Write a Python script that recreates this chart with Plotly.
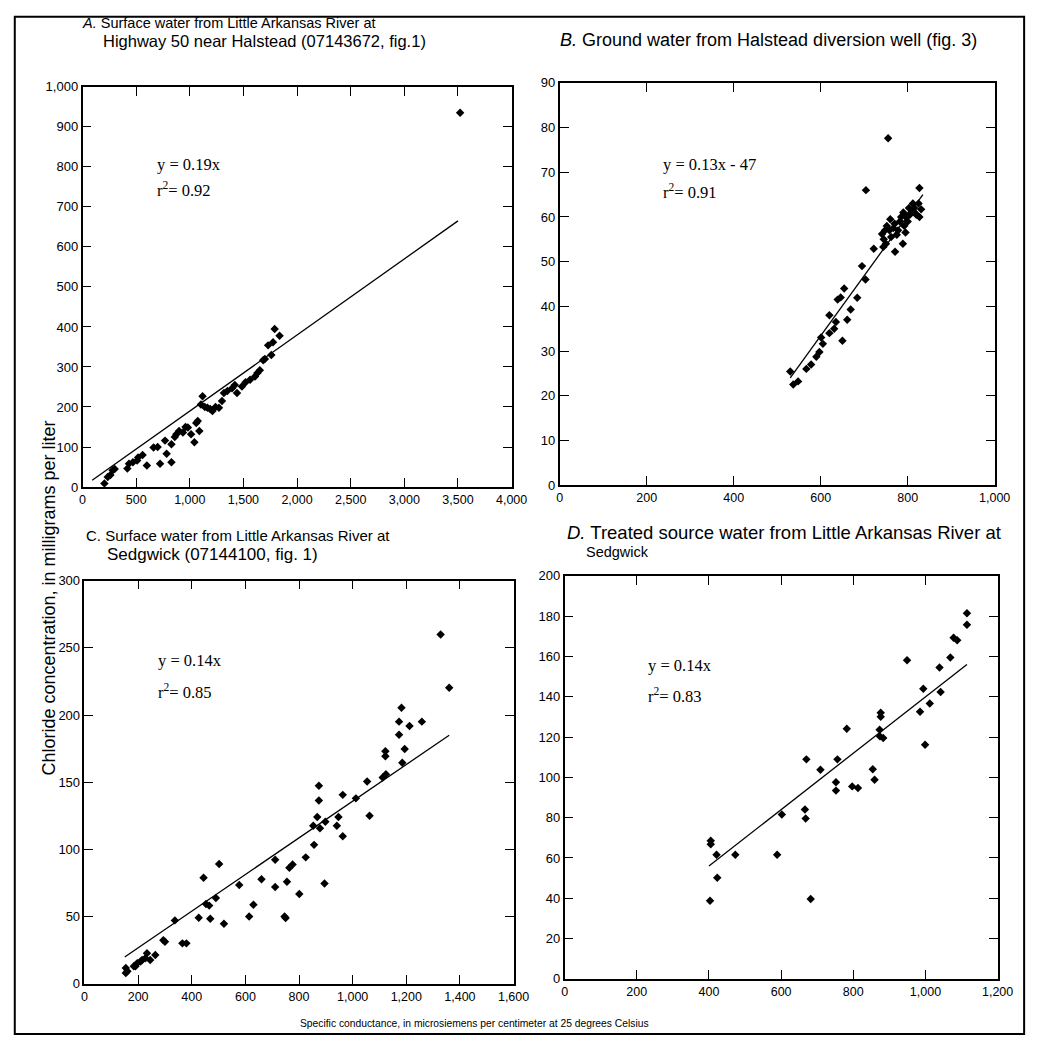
import plotly.graph_objects as go

W, H = 1047, 1048

# ---------------- data ----------------
A_x = [204, 235, 260, 281, 300, 418, 433, 470, 509, 518, 560, 600, 662, 700, 723, 769, 784, 829, 829, 860,
       875, 900, 936, 960, 982, 1012, 1043, 1060, 1074, 1089, 1104, 1119, 1140, 1165, 1190, 1211, 1240, 1272,
       1300, 1318, 1350, 1394, 1420, 1440, 1486, 1520, 1562, 1608, 1630, 1653, 1684, 1700, 1730, 1760, 1776,
       1791, 1837, 3520]
A_y = [9, 25, 30, 42, 45, 46, 58, 62, 66, 74, 80, 54, 99, 100, 58, 116, 83, 62, 107, 125,
       132, 140, 136, 150, 149, 132, 112, 160, 165, 140, 206, 227, 200, 198, 195, 190, 200, 198,
       215, 235, 240, 247, 255, 235, 251, 262, 268, 276, 285, 292, 317, 320, 354, 330, 362,
       395, 378, 935]
A_fit_x = [90, 3500]
A_fit_y = [17, 665]

B_x = [530, 537, 548, 567, 578, 590, 597, 605, 601, 620, 631, 620, 635, 650, 639, 654, 646, 669, 661, 684,
       695, 703, 722, 744, 741, 752, 767, 771, 782, 789, 797, 805, 816, 827, 831, 812, 775, 755, 704, 827,
       745, 750, 758, 762, 770, 778, 785, 792, 800, 808, 815, 820, 825, 760, 748, 795, 803, 790]
B_y = [25.4, 22.5, 23.2, 26, 27, 28.7, 29.8, 31.6, 33, 34, 35, 38, 36.5, 32.3, 41.5, 44, 42, 39.3, 37, 41.9,
       49, 46, 52.9, 53.3, 56.2, 58, 57.5, 52.2, 59, 54, 60, 60.5, 61, 60, 61.7, 63, 56, 77.6, 66, 66.5,
       55, 54, 57, 55.5, 58.5, 57, 60, 58, 59, 61, 62, 60.5, 63, 59.5, 57, 56.5, 62, 61]
B_fit_x = [530, 835]
B_fit_y = [24, 65]

C_x = [1328, 1360, 1182, 1173, 1173, 1212, 1258, 1194, 1185, 1122, 1122, 1112, 1124, 1054, 1063, 1012, 963,
       947, 941, 963, 874, 874, 868, 878, 853, 856, 898, 895, 825, 801, 776, 764, 755, 746, 711, 711, 660,
       630, 614, 577, 502, 490, 520, 465, 469, 453, 444, 426, 365, 380, 300, 337, 264, 245, 233, 215, 197,
       184, 154, 160, 154, 190, 209, 227, 294, 750]
C_y = [260, 220.3, 205.4, 195.1, 185.3, 191.9, 195.1, 174.8, 164.5, 173.1, 169.4, 153.6, 156, 150.6, 125, 138,
       140.6, 124.2, 117.6, 109.8, 147.4, 136.4, 124.2, 115.7, 117.6, 103.4, 120.6, 74.6, 94.1, 66.8, 88.8,
       86.3, 76, 50.1, 92.4, 72.1, 77.8, 58.9, 50.1, 73.6, 89.2, 63.8, 44.7, 58.2, 48.4, 59.4, 79, 49.1, 30.1,
       30.1, 31.3, 47.2, 21.5, 17.8, 22.7, 17.8, 15.4, 13, 11.7, 9.3, 8, 13, 16.6, 19, 32.5, 49]
C_fit_x = [150, 1360]
C_fit_y = [20, 185]

D_x = [1115, 1115, 1088, 1078, 1069, 1039, 1042, 1012, 994, 985, 999, 949, 876, 876, 873, 874, 883, 854, 859,
       782, 756, 752, 752, 797, 813, 709, 670, 666, 668, 682, 602, 589, 473, 421, 423, 405, 403, 405]
D_y = [181.4, 175.7, 168, 169.2, 159.4, 154.5, 142.3, 136.6, 143.9, 132.5, 116.2, 158.1, 132, 130, 123.6, 120.3,
       119.5, 104, 98.8, 124.1, 108.9, 97.5, 93.4, 95.5, 94.7, 103.7, 108.9, 84, 79.6, 39.6, 81.5, 61.6, 61.6,
       61.6, 50.2, 66.8, 38.8, 68.5]
D_fit_x = [400, 1115]
D_fit_y = [56, 156]

A_xticks = [0, 500, 1000, 1500, 2000, 2500, 3000, 3500, 4000]
A_yticks = [0, 100, 200, 300, 400, 500, 600, 700, 800, 900, 1000]
B_xticks = [0, 200, 400, 600, 800, 1000]
B_yticks = [0, 10, 20, 30, 40, 50, 60, 70, 80, 90]
C_xticks = [0, 200, 400, 600, 800, 1000, 1200, 1400, 1600]
C_yticks = [0, 50, 100, 150, 200, 250, 300]
D_xticks = [0, 200, 400, 600, 800, 1000, 1200]
D_yticks = [0, 20, 40, 60, 80, 100, 120, 140, 160, 180, 200]

titles = {
    "A": ["<i>A.</i> Surface water from Little Arkansas River at", "Highway 50 near Halstead (07143672, fig.1)"],
    "B": ["<i>B.</i> Ground water from Halstead diversion well (fig. 3)"],
    "C": ["C. Surface water from Little Arkansas River at", "Sedgwick (07144100, fig. 1)"],
    "D": ["<i>D.</i> Treated source water from Little Arkansas River at", "Sedgwick"],
}
equations = {
    "A": ["y = 0.19x", "r<sup>2</sup>= 0.92"],
    "B": ["y = 0.13x - 47", "r<sup>2</sup>= 0.91"],
    "C": ["y = 0.14x", "r<sup>2</sup>= 0.85"],
    "D": ["y = 0.14x", "r<sup>2</sup>= 0.83"],
}

# ---------------- layout helpers ----------------
def fx(p):
    return p / W

def fy(p):
    return 1 - p / H

# pixel boxes: (left, right, top, bottom)
boxes = {
    "A": (81, 518, 81, 487),
    "B": (567, 1010, 77, 485),
    "C": (83, 520, 582, 991),
    "D": (572, 1013, 577, 986),
}

panels = [
    ("A", A_x, A_y, A_fit_x, A_fit_y, A_xticks, A_yticks),
    ("B", B_x, B_y, B_fit_x, B_fit_y, B_xticks, B_yticks),
    ("C", C_x, C_y, C_fit_x, C_fit_y, C_xticks, C_yticks),
    ("D", D_x, D_y, D_fit_x, D_fit_y, D_xticks, D_yticks),
]

SANS = "Liberation Sans, Arial, sans-serif"
SERIF = "Liberation Serif, Times New Roman, serif"

fig = go.Figure()
layout = dict(
    width=W, height=H, margin=dict(l=0, r=0, t=0, b=0),
    paper_bgcolor="white", plot_bgcolor="white", showlegend=False,
)
annotations = []

for i, (key, xs, ys, fxs, fys, xt, yt) in enumerate(panels):
    n = "" if i == 0 else str(i + 1)
    xa, ya = "x" + n, "y" + n
    fig.add_trace(go.Scatter(x=fxs, y=fys, mode="lines", line=dict(color="black", width=1.3),
                             xaxis=xa, yaxis=ya, hoverinfo="skip"))
    fig.add_trace(go.Scatter(x=xs, y=ys, mode="markers",
                             marker=dict(symbol="diamond", size=6.5, color="black"),
                             xaxis=xa, yaxis=ya))
    l, r, t, b = boxes[key]
    common = dict(showline=True, linecolor="black", linewidth=1.6, mirror="ticks",
                  ticks="inside", ticklen=9, tickwidth=1.4, tickcolor="black",
                  showgrid=False, zeroline=False, tickformat=",d")
    layout["xaxis" + n] = dict(domain=[fx(l), fx(r)], range=[xt[0], xt[-1]], tickvals=xt,
                               anchor=ya, tickfont=dict(family=SANS, size=12.5, color="black"),
                               **common)
    layout["yaxis" + n] = dict(domain=[fy(b), fy(t)], range=[yt[0], yt[-1]], tickvals=yt,
                               anchor=xa, tickfont=dict(family=SANS, size=13, color="black"),
                               **common)

# titles: (x px, y px, font size) per line
title_pos = {
    "A": [(78, 16, 14.5), (100, 34, 16.5)],
    "B": [(565, 33, 18)],
    "C": [(83, 536, 15), (104, 555, 17)],
    "D": [(572, 533, 18.5), (592, 553, 14.5)],
}
for key, lines in titles.items():
    for (tx, ty, ts), txt in zip(title_pos[key], lines):
        annotations.append(dict(x=fx(tx), y=fy(ty), xref="paper", yref="paper", text=txt,
                                showarrow=False, xanchor="left", yanchor="middle",
                                font=dict(family=SANS, size=ts, color="black")))

eq_pos = {
    "A": [(155, 160), (155, 185)],
    "B": [(670, 160), (670, 187)],
    "C": [(156, 663), (156, 694)],
    "D": [(655, 668), (655, 698)],
}
for key, lines in equations.items():
    for (tx, ty), txt in zip(eq_pos[key], lines):
        annotations.append(dict(x=fx(tx), y=fy(ty), xref="paper", yref="paper", text=txt,
                                showarrow=False, xanchor="left", yanchor="middle",
                                font=dict(family=SERIF, size=16.5, color="black")))

annotations.append(dict(x=fx(47), y=fy(600), xref="paper", yref="paper",
                        text="Chloride concentration, in milligrams per liter",
                        showarrow=False, textangle=-90, xanchor="center", yanchor="middle",
                        font=dict(family=SANS, size=18, color="black")))
annotations.append(dict(x=fx(300), y=fy(1031), xref="paper", yref="paper",
                        text="Specific conductance, in microsiemens per centimeter at 25 degrees Celsius",
                        showarrow=False, xanchor="left", yanchor="middle",
                        font=dict(family=SANS, size=10.3, color="black")))

layout["annotations"] = annotations
layout["shapes"] = [dict(type="rect", xref="paper", yref="paper",
                         x0=fx(12), x1=fx(1040), y0=fy(1042), y1=fy(10),
                         line=dict(color="black", width=2))]
fig.update_layout(**layout)
fig.write_html("out.html", config={"displayModeBar": False},
               post_script="document.body.style.margin='0px';")
